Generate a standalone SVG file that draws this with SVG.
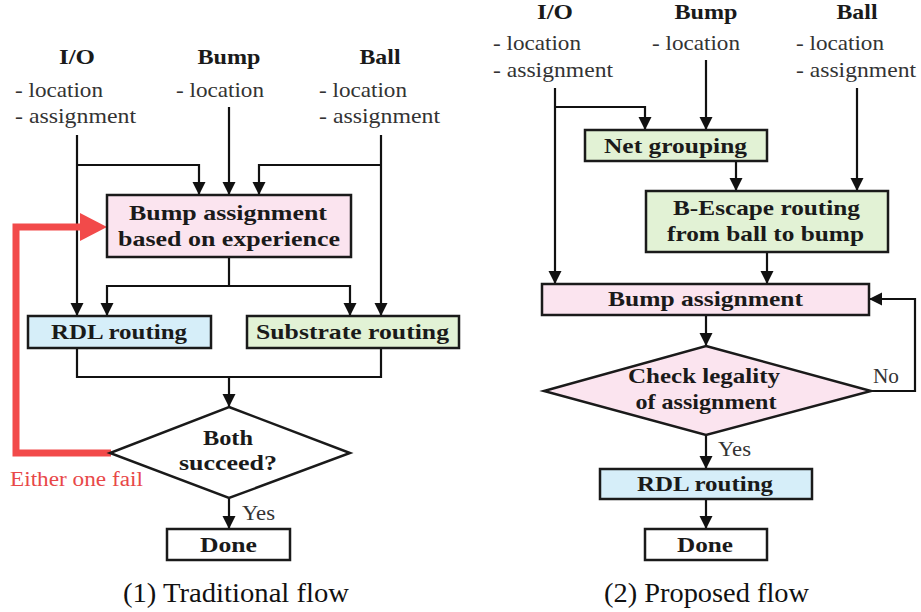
<svg xmlns="http://www.w3.org/2000/svg" width="921" height="612" viewBox="0 0 921 612">
<style>
.head{font-family:"Liberation Serif",serif;font-weight:bold;font-size:21px;fill:#1a1a1a;text-anchor:middle}
.sub{font-family:"Liberation Serif",serif;font-size:21px;fill:#333}
.lbl{font-family:"Liberation Serif",serif;font-weight:bold;font-size:21px;fill:#1a1a1a;text-anchor:middle}
.note{font-family:"Liberation Serif",serif;font-size:20px;fill:#333}
.cap{font-family:"Liberation Serif",serif;font-size:27px;fill:#111;text-anchor:middle}
.box{stroke:#1a1a1a;stroke-width:2.5}
.pink{fill:#fbe4ef}.blue{fill:#d6eef9}.green{fill:#e2f2d5}.white{fill:#fff}
.ln{fill:none;stroke:#111;stroke-width:2.2}
</style>
<defs>
<marker id="ah" markerUnits="userSpaceOnUse" markerWidth="14" markerHeight="14" refX="13" refY="7" orient="auto">
<path d="M0,0.5 L13,7 L0,13.5 z" fill="#111"/>
</marker>
</defs>
<rect width="921" height="612" fill="#fff"/>

<!-- Left flow inputs -->
<g id="L-io"><text class="head" x="77" y="64" textLength="36" lengthAdjust="spacingAndGlyphs">I/O</text><text class="sub" x="15" y="97" textLength="88" lengthAdjust="spacingAndGlyphs">- location</text><text class="sub" x="15" y="123" textLength="121" lengthAdjust="spacingAndGlyphs">- assignment</text></g>
<g id="L-bump"><text class="head" x="229" y="64" textLength="63" lengthAdjust="spacingAndGlyphs">Bump</text><text class="sub" x="176" y="97" textLength="88" lengthAdjust="spacingAndGlyphs">- location</text></g>
<g id="L-ball"><text class="head" x="380" y="64" textLength="41" lengthAdjust="spacingAndGlyphs">Ball</text><text class="sub" x="319" y="97" textLength="88" lengthAdjust="spacingAndGlyphs">- location</text><text class="sub" x="319" y="123" textLength="121" lengthAdjust="spacingAndGlyphs">- assignment</text></g>

<g id="connectors">
<!-- left -->
<path class="ln" d="M77,135 V316" marker-end="url(#ah)"/>
<path class="ln" d="M77,165 H199 V195" marker-end="url(#ah)"/>
<path class="ln" d="M229,107 V195" marker-end="url(#ah)"/>
<path class="ln" d="M381,135 V316" marker-end="url(#ah)"/>
<path class="ln" d="M381,165 H259 V195" marker-end="url(#ah)"/>
<path class="ln" d="M229,257 V286"/>
<path class="ln" d="M229,286 H107 V316" marker-end="url(#ah)"/>
<path class="ln" d="M229,286 H350 V316" marker-end="url(#ah)"/>
<path class="ln" d="M77,348 V377 H381 V348"/>
<path class="ln" d="M229,377 V407" marker-end="url(#ah)"/>
<path class="ln" d="M229,498 V529" marker-end="url(#ah)"/>
<path d="M111,453 H16 V227 H84" fill="none" stroke="#f24a4a" stroke-width="7"/>
<polygon points="80,213 107,227 80,241" fill="#f24a4a"/>
<!-- right -->
<path class="ln" d="M555,88 V284" marker-end="url(#ah)"/>
<path class="ln" d="M555,107 H645 V130" marker-end="url(#ah)"/>
<path class="ln" d="M706,60 V130" marker-end="url(#ah)"/>
<path class="ln" d="M736,161 V191" marker-end="url(#ah)"/>
<path class="ln" d="M857,88 V191" marker-end="url(#ah)"/>
<path class="ln" d="M767,252 V284" marker-end="url(#ah)"/>
<path class="ln" d="M706,315 V346" marker-end="url(#ah)"/>
<path class="ln" d="M871,391 H915 V299 H869" marker-end="url(#ah)"/>
<path class="ln" d="M706,435 V469" marker-end="url(#ah)"/>
<path class="ln" d="M706,499 V529" marker-end="url(#ah)"/>
</g>

<g id="L-assign"><rect class="box pink" x="107" y="195" width="244" height="62"/><text class="lbl" x="228" y="220" textLength="198" lengthAdjust="spacingAndGlyphs">Bump assignment</text><text class="lbl" x="229" y="246" textLength="222" lengthAdjust="spacingAndGlyphs">based on experience</text></g>
<g id="L-rdl"><rect class="box blue" x="28" y="316" width="183" height="32"/><text class="lbl" x="119" y="339" textLength="136" lengthAdjust="spacingAndGlyphs">RDL routing</text></g>
<g id="L-sub"><rect class="box green" x="247" y="316" width="212" height="32"/><text class="lbl" x="352.5" y="339" textLength="193" lengthAdjust="spacingAndGlyphs">Substrate routing</text></g>
<g id="L-check"><polygon class="box white" points="229,407 350,453 229,498 110,453"/><text class="lbl" x="228" y="445" textLength="50" lengthAdjust="spacingAndGlyphs">Both</text><text class="lbl" x="228" y="470" textLength="98" lengthAdjust="spacingAndGlyphs">succeed?</text></g>
<text class="note" x="10" y="486" style="fill:#e84848" textLength="133" lengthAdjust="spacingAndGlyphs">Either one fail</text>
<text class="note" x="242" y="520" textLength="33" lengthAdjust="spacingAndGlyphs">Yes</text>
<g id="L-done"><rect class="box white" x="167" y="529" width="123" height="31"/><text class="lbl" x="228.5" y="552" textLength="57" lengthAdjust="spacingAndGlyphs">Done</text></g>
<text class="cap" x="236" y="602" textLength="226" lengthAdjust="spacingAndGlyphs">(1) Traditional flow</text>

<!-- Right flow -->
<g id="R-io"><text class="head" x="555" y="19" textLength="36" lengthAdjust="spacingAndGlyphs">I/O</text><text class="sub" x="493" y="50" textLength="88" lengthAdjust="spacingAndGlyphs">- location</text><text class="sub" x="493" y="77" textLength="120" lengthAdjust="spacingAndGlyphs">- assignment</text></g>
<g id="R-bump"><text class="head" x="706" y="19" textLength="63" lengthAdjust="spacingAndGlyphs">Bump</text><text class="sub" x="652" y="50" textLength="88" lengthAdjust="spacingAndGlyphs">- location</text></g>
<g id="R-ball"><text class="head" x="857" y="19" textLength="41" lengthAdjust="spacingAndGlyphs">Ball</text><text class="sub" x="796" y="50" textLength="88" lengthAdjust="spacingAndGlyphs">- location</text><text class="sub" x="796" y="77" textLength="120" lengthAdjust="spacingAndGlyphs">- assignment</text></g>
<g id="R-net"><rect class="box green" x="585" y="130" width="182" height="31"/><text class="lbl" x="675.5" y="153" textLength="143" lengthAdjust="spacingAndGlyphs">Net grouping</text></g>
<g id="R-besc"><rect class="box green" x="646" y="191" width="242" height="61"/><text class="lbl" x="766.5" y="215" textLength="187" lengthAdjust="spacingAndGlyphs">B-Escape routing</text><text class="lbl" x="765.5" y="241" textLength="197" lengthAdjust="spacingAndGlyphs">from ball to bump</text></g>
<g id="R-assign"><rect class="box pink" x="542" y="284" width="327" height="31"/><text class="lbl" x="705.5" y="306" textLength="195" lengthAdjust="spacingAndGlyphs">Bump assignment</text></g>
<g id="R-check"><polygon class="box pink" points="706,346 871,391 706,435 544,391"/><text class="lbl" x="704" y="383" textLength="152" lengthAdjust="spacingAndGlyphs">Check legality</text><text class="lbl" x="706" y="409" textLength="141" lengthAdjust="spacingAndGlyphs">of assignment</text></g>
<text class="note" x="873" y="383" textLength="26" lengthAdjust="spacingAndGlyphs">No</text>
<text class="note" x="718" y="456" textLength="33" lengthAdjust="spacingAndGlyphs">Yes</text>
<g id="R-rdl"><rect class="box blue" x="600" y="469" width="212" height="30"/><text class="lbl" x="705" y="491" textLength="136" lengthAdjust="spacingAndGlyphs">RDL routing</text></g>
<g id="R-done"><rect class="box white" x="645" y="529" width="122" height="31"/><text class="lbl" x="705" y="552" textLength="56" lengthAdjust="spacingAndGlyphs">Done</text></g>
<text class="cap" x="706.5" y="602" textLength="205" lengthAdjust="spacingAndGlyphs">(2) Proposed flow</text>
</svg>
